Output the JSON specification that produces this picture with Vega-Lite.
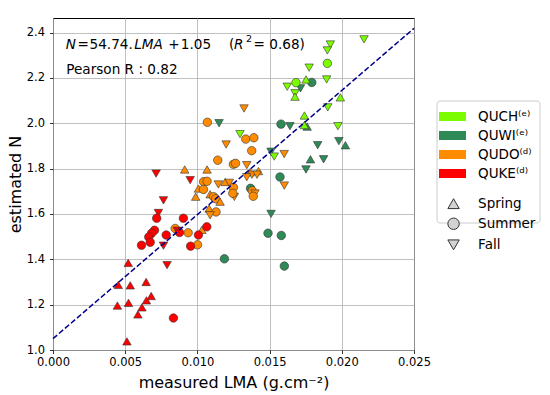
{
  "$schema": "https://vega.github.io/schema/vega-lite/v6.json",
  "width": 361,
  "height": 332,
  "autosize": {"type": "none"},
  "padding": {"left": 53, "top": 18, "right": 136, "bottom": 45},
  "config": {
    "font": "DejaVu Sans",
    "view": {"stroke": "#000000", "strokeWidth": 1},
    "axis": {
      "domain": false, "grid": true, "gridColor": "#b0b0b0", "gridWidth": 0.8, "gridOpacity": 1,
      "tickColor": "#000000", "tickSize": 3.5, "tickWidth": 0.8,
      "labelColor": "#000000", "labelFont": "DejaVu Sans", "labelFontSize": 11.5,
      "labelFlush": false, "labelOverlap": false,
      "titleFont": "DejaVu Sans", "titleFontSize": 16, "titleFontWeight": "normal", "titleColor": "#000000"
    }
  },
  "datasets": {
    "pts": [
      {"LMA": 0.01150, "N": 2.000, "sp": "QUWI", "season": "Fall"},
      {"LMA": 0.01792, "N": 2.180, "sp": "QUWI", "season": "Summer"},
      {"LMA": 0.01714, "N": 2.154, "sp": "QUWI", "season": "Fall"},
      {"LMA": 0.01579, "N": 1.996, "sp": "QUWI", "season": "Summer"},
      {"LMA": 0.01641, "N": 1.987, "sp": "QUWI", "season": "Fall"},
      {"LMA": 0.01760, "N": 1.985, "sp": "QUWI", "season": "Spring"},
      {"LMA": 0.01833, "N": 1.903, "sp": "QUWI", "season": "Fall"},
      {"LMA": 0.01980, "N": 1.921, "sp": "QUWI", "season": "Fall"},
      {"LMA": 0.02025, "N": 1.903, "sp": "QUWI", "season": "Spring"},
      {"LMA": 0.01510, "N": 1.874, "sp": "QUWI", "season": "Fall"},
      {"LMA": 0.01783, "N": 1.841, "sp": "QUWI", "season": "Spring"},
      {"LMA": 0.01874, "N": 1.841, "sp": "QUWI", "season": "Fall"},
      {"LMA": 0.01752, "N": 1.796, "sp": "QUWI", "season": "Fall"},
      {"LMA": 0.01572, "N": 1.763, "sp": "QUWI", "season": "Summer"},
      {"LMA": 0.01368, "N": 1.713, "sp": "QUWI", "season": "Summer"},
      {"LMA": 0.01510, "N": 1.600, "sp": "QUWI", "season": "Fall"},
      {"LMA": 0.01489, "N": 1.515, "sp": "QUWI", "season": "Summer"},
      {"LMA": 0.01581, "N": 1.505, "sp": "QUWI", "season": "Summer"},
      {"LMA": 0.01187, "N": 1.402, "sp": "QUWI", "season": "Summer"},
      {"LMA": 0.01602, "N": 1.370, "sp": "QUWI", "season": "Summer"},
      {"LMA": 0.02154, "N": 2.370, "sp": "QUCH", "season": "Fall"},
      {"LMA": 0.01921, "N": 2.347, "sp": "QUCH", "season": "Fall"},
      {"LMA": 0.01900, "N": 2.321, "sp": "QUCH", "season": "Fall"},
      {"LMA": 0.01900, "N": 2.264, "sp": "QUCH", "season": "Summer"},
      {"LMA": 0.01774, "N": 2.245, "sp": "QUCH", "season": "Fall"},
      {"LMA": 0.01752, "N": 2.193, "sp": "QUCH", "season": "Spring"},
      {"LMA": 0.01895, "N": 2.193, "sp": "QUCH", "season": "Fall"},
      {"LMA": 0.01683, "N": 2.179, "sp": "QUCH", "season": "Summer"},
      {"LMA": 0.01622, "N": 2.161, "sp": "QUCH", "season": "Fall"},
      {"LMA": 0.01676, "N": 2.132, "sp": "QUCH", "season": "Fall"},
      {"LMA": 0.01676, "N": 2.117, "sp": "QUCH", "season": "Spring"},
      {"LMA": 0.01990, "N": 2.114, "sp": "QUCH", "season": "Spring"},
      {"LMA": 0.01903, "N": 2.070, "sp": "QUCH", "season": "Fall"},
      {"LMA": 0.01741, "N": 2.034, "sp": "QUCH", "season": "Spring"},
      {"LMA": 0.01741, "N": 1.992, "sp": "QUCH", "season": "Spring"},
      {"LMA": 0.01973, "N": 1.987, "sp": "QUCH", "season": "Fall"},
      {"LMA": 0.01295, "N": 1.952, "sp": "QUCH", "season": "Fall"},
      {"LMA": 0.01532, "N": 1.853, "sp": "QUCH", "season": "Fall"},
      {"LMA": 0.01323, "N": 2.065, "sp": "QUDO", "season": "Fall"},
      {"LMA": 0.01069, "N": 2.004, "sp": "QUDO", "season": "Summer"},
      {"LMA": 0.01335, "N": 1.930, "sp": "QUDO", "season": "Summer"},
      {"LMA": 0.01391, "N": 1.936, "sp": "QUDO", "season": "Summer"},
      {"LMA": 0.01199, "N": 1.906, "sp": "QUDO", "season": "Fall"},
      {"LMA": 0.01376, "N": 1.879, "sp": "QUDO", "season": "Summer"},
      {"LMA": 0.01601, "N": 1.864, "sp": "QUDO", "season": "Fall"},
      {"LMA": 0.01141, "N": 1.837, "sp": "QUDO", "season": "Summer"},
      {"LMA": 0.01249, "N": 1.819, "sp": "QUDO", "season": "Summer"},
      {"LMA": 0.01264, "N": 1.823, "sp": "QUDO", "season": "Summer"},
      {"LMA": 0.01342, "N": 1.815, "sp": "QUDO", "season": "Fall"},
      {"LMA": 0.00912, "N": 1.796, "sp": "QUDO", "season": "Spring"},
      {"LMA": 0.01067, "N": 1.796, "sp": "QUDO", "season": "Spring"},
      {"LMA": 0.01365, "N": 1.784, "sp": "QUDO", "season": "Spring"},
      {"LMA": 0.01423, "N": 1.789, "sp": "QUDO", "season": "Spring"},
      {"LMA": 0.01378, "N": 1.773, "sp": "QUDO", "season": "Fall"},
      {"LMA": 0.01413, "N": 1.773, "sp": "QUDO", "season": "Fall"},
      {"LMA": 0.01342, "N": 1.762, "sp": "QUDO", "season": "Fall"},
      {"LMA": 0.01043, "N": 1.742, "sp": "QUDO", "season": "Summer"},
      {"LMA": 0.01067, "N": 1.744, "sp": "QUDO", "season": "Summer"},
      {"LMA": 0.01145, "N": 1.730, "sp": "QUDO", "season": "Fall"},
      {"LMA": 0.01192, "N": 1.741, "sp": "QUDO", "season": "Spring"},
      {"LMA": 0.01221, "N": 1.737, "sp": "QUDO", "season": "Fall"},
      {"LMA": 0.01249, "N": 1.717, "sp": "QUDO", "season": "Summer"},
      {"LMA": 0.01007, "N": 1.712, "sp": "QUDO", "season": "Spring"},
      {"LMA": 0.01042, "N": 1.708, "sp": "QUDO", "season": "Summer"},
      {"LMA": 0.00988, "N": 1.676, "sp": "QUDO", "season": "Spring"},
      {"LMA": 0.01088, "N": 1.687, "sp": "QUDO", "season": "Spring"},
      {"LMA": 0.01112, "N": 1.676, "sp": "QUDO", "season": "Summer"},
      {"LMA": 0.01126, "N": 1.667, "sp": "QUDO", "season": "Summer"},
      {"LMA": 0.01256, "N": 1.675, "sp": "QUDO", "season": "Fall"},
      {"LMA": 0.01245, "N": 1.691, "sp": "QUDO", "season": "Summer"},
      {"LMA": 0.01157, "N": 1.654, "sp": "QUDO", "season": "Spring"},
      {"LMA": 0.01380, "N": 1.702, "sp": "QUDO", "season": "Summer"},
      {"LMA": 0.01399, "N": 1.690, "sp": "QUDO", "season": "Fall"},
      {"LMA": 0.01387, "N": 1.678, "sp": "QUDO", "season": "Summer"},
      {"LMA": 0.01602, "N": 1.725, "sp": "QUDO", "season": "Fall"},
      {"LMA": 0.01081, "N": 1.624, "sp": "QUDO", "season": "Spring"},
      {"LMA": 0.01129, "N": 1.609, "sp": "QUDO", "season": "Summer"},
      {"LMA": 0.01088, "N": 1.594, "sp": "QUDO", "season": "Fall"},
      {"LMA": 0.00846, "N": 1.536, "sp": "QUDO", "season": "Summer"},
      {"LMA": 0.00936, "N": 1.517, "sp": "QUDO", "season": "Summer"},
      {"LMA": 0.01031, "N": 1.530, "sp": "QUDO", "season": "Spring"},
      {"LMA": 0.01001, "N": 1.464, "sp": "QUDO", "season": "Summer"},
      {"LMA": 0.00714, "N": 1.778, "sp": "QUKE", "season": "Fall"},
      {"LMA": 0.00950, "N": 1.749, "sp": "QUKE", "season": "Fall"},
      {"LMA": 0.00765, "N": 1.660, "sp": "QUKE", "season": "Fall"},
      {"LMA": 0.00730, "N": 1.604, "sp": "QUKE", "season": "Fall"},
      {"LMA": 0.00718, "N": 1.581, "sp": "QUKE", "season": "Summer"},
      {"LMA": 0.00903, "N": 1.581, "sp": "QUKE", "season": "Summer"},
      {"LMA": 0.01065, "N": 1.543, "sp": "QUKE", "season": "Summer"},
      {"LMA": 0.00860, "N": 1.526, "sp": "QUKE", "season": "Fall"},
      {"LMA": 0.00876, "N": 1.518, "sp": "QUKE", "season": "Summer"},
      {"LMA": 0.01007, "N": 1.507, "sp": "QUKE", "season": "Summer"},
      {"LMA": 0.00703, "N": 1.528, "sp": "QUKE", "season": "Summer"},
      {"LMA": 0.00683, "N": 1.515, "sp": "QUKE", "season": "Summer"},
      {"LMA": 0.00663, "N": 1.498, "sp": "QUKE", "season": "Summer"},
      {"LMA": 0.00784, "N": 1.507, "sp": "QUKE", "season": "Summer"},
      {"LMA": 0.00673, "N": 1.475, "sp": "QUKE", "season": "Summer"},
      {"LMA": 0.00613, "N": 1.462, "sp": "QUKE", "season": "Summer"},
      {"LMA": 0.00765, "N": 1.460, "sp": "QUKE", "season": "Fall"},
      {"LMA": 0.00953, "N": 1.458, "sp": "QUKE", "season": "Summer"},
      {"LMA": 0.00521, "N": 1.384, "sp": "QUKE", "season": "Spring"},
      {"LMA": 0.00790, "N": 1.374, "sp": "QUKE", "season": "Fall"},
      {"LMA": 0.00452, "N": 1.287, "sp": "QUKE", "season": "Spring"},
      {"LMA": 0.00535, "N": 1.285, "sp": "QUKE", "season": "Spring"},
      {"LMA": 0.00645, "N": 1.300, "sp": "QUKE", "season": "Spring"},
      {"LMA": 0.00680, "N": 1.238, "sp": "QUKE", "season": "Spring"},
      {"LMA": 0.00647, "N": 1.219, "sp": "QUKE", "season": "Spring"},
      {"LMA": 0.00616, "N": 1.188, "sp": "QUKE", "season": "Spring"},
      {"LMA": 0.00588, "N": 1.157, "sp": "QUKE", "season": "Spring"},
      {"LMA": 0.00446, "N": 1.196, "sp": "QUKE", "season": "Spring"},
      {"LMA": 0.00523, "N": 1.208, "sp": "QUKE", "season": "Spring"},
      {"LMA": 0.00834, "N": 1.141, "sp": "QUKE", "season": "Summer"},
      {"LMA": 0.00512, "N": 1.038, "sp": "QUKE", "season": "Spring"}
    ]
  },
  "encoding": {
    "x": {
      "field": "LMA", "type": "quantitative",
      "scale": {"domain": [0, 0.025], "nice": false, "zero": false},
      "axis": {"values": [0, 0.005, 0.01, 0.015, 0.02, 0.025], "format": ".3f", "title": "measured LMA (g.cm⁻²)", "labelPadding": 3, "titlePadding": 6}
    },
    "y": {
      "field": "N", "type": "quantitative",
      "scale": {"domain": [1.0, 2.464], "nice": false, "zero": false},
      "axis": {"values": [1.0, 1.2, 1.4, 1.6, 1.8, 2.0, 2.2, 2.4], "format": ".1f", "title": "estimated N", "labelPadding": 5, "titlePadding": 3}
    }
  },
  "layer": [
    {
      "data": {"name": "pts"},
      "mark": {"type": "point", "filled": true, "size": 72, "strokeWidth": 0.6, "opacity": 1},
      "encoding": {
        "color": {
          "field": "sp", "type": "nominal",
          "scale": {"domain": ["QUCH", "QUWI", "QUDO", "QUKE"], "range": ["#7cfc00", "#2e8b57", "#ff8c00", "#ff0000"]},
          "legend": {
            "orient": "none", "legendX": 383.5, "legendY": 82.5,
            "title": ["\u00a0", "\u00a0"], "titleOrient": "bottom", "titleFontSize": 13.5, "titleLineHeight": 20.8, "titlePadding": 0,
            "padding": 7, "strokeColor": "#cccccc", "cornerRadius": 3,
            "rowPadding": 3, "symbolSize": 324, "symbolType": "M-1.5,-0.5H1.5V0.5H-1.5Z",
            "symbolStrokeColor": "transparent", "symbolStrokeWidth": 0, "symbolOpacity": 1,
            "labelFont": "DejaVu Sans", "labelFontSize": 13.5, "labelColor": "#000000", "labelOffset": 16.5,
            "labelExpr": "(datum.label == 'QUCH' || datum.label == 'QUWI') ? datum.label + '⁽ᵉ⁾' : datum.label + '⁽ᵈ⁾'"
          }
        },
        "stroke": {
          "field": "sp", "type": "nominal",
          "scale": {"domain": ["QUCH", "QUWI", "QUDO", "QUKE"], "range": ["#333333", "#333333", "#333333", "#333333"]},
          "legend": null
        },
        "shape": {
          "field": "season", "type": "nominal",
          "scale": {"domain": ["Spring", "Summer", "Fall"], "range": ["triangle-up", "circle", "triangle-down"]},
          "legend": {
            "orient": "none", "legendX": 393.8, "legendY": 178.9, "title": null,
            "padding": 0.001, "rowPadding": 5.1, "symbolSize": 130,
            "symbolFillColor": "#d3d3d3", "symbolStrokeColor": "#333333", "symbolStrokeWidth": 1, "symbolOpacity": 1,
            "labelFont": "DejaVu Sans", "labelFontSize": 13.5, "labelColor": "#000000", "labelOffset": 17.8
          }
        }
      }
    },
    {
      "data": {"values": [{"LMA": 0, "N": 1.05}, {"LMA": 0.025, "N": 2.4185}]},
      "mark": {"type": "line", "color": "#00008b", "strokeWidth": 1.5, "strokeDash": [5.5, 2.4]}
    },
    {
      "data": {"values": [
        {"LMA": 0.00170, "N": 2.326, "t": "="},
        {"LMA": 0.00253, "N": 2.326, "t": "54.74."},
        {"LMA": 0.00798, "N": 2.326, "t": "+"},
        {"LMA": 0.00885, "N": 2.326, "t": "1.05"},
        {"LMA": 0.01219, "N": 2.326, "t": "("},
        {"LMA": 0.01389, "N": 2.326, "t": "= 0.68)"},
        {"LMA": 0.00092, "N": 2.217, "t": "Pearson R : 0.82"}
      ]},
      "mark": {"type": "text", "align": "left", "baseline": "alphabetic", "font": "DejaVu Sans", "fontSize": 13.6, "color": "#000000"},
      "encoding": {"text": {"field": "t"}}
    },
    {
      "data": {"values": [
        {"LMA": 0.00088, "N": 2.326, "t": "N"},
        {"LMA": 0.00562, "N": 2.326, "t": "LMA"},
        {"LMA": 0.01254, "N": 2.326, "t": "R"}
      ]},
      "mark": {"type": "text", "align": "left", "baseline": "alphabetic", "font": "DejaVu Sans", "fontStyle": "italic", "fontSize": 13.6, "color": "#000000"},
      "encoding": {"text": {"field": "t"}}
    },
    {
      "data": {"values": [{"LMA": 0.01337, "N": 2.359, "t": "2"}]},
      "mark": {"type": "text", "align": "left", "baseline": "alphabetic", "font": "DejaVu Sans", "fontSize": 9.5, "color": "#000000"},
      "encoding": {"text": {"field": "t"}}
    }
  ]
}
